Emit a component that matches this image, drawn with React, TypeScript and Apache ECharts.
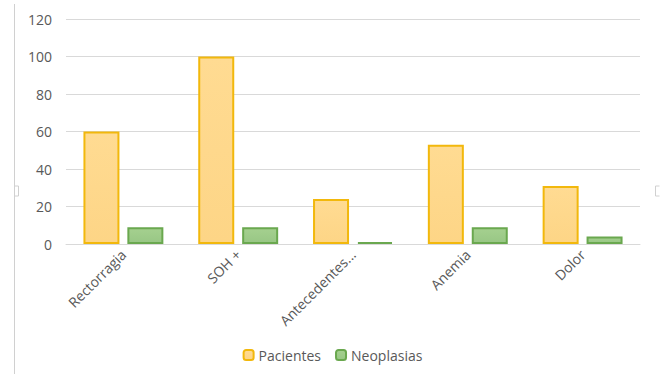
import React, { useEffect, useRef } from "react";
import * as echarts from "echarts";

const categories = ["Rectorragia", "SOH +", "Antecedentes...", "Anemia", "Dolor"];
const pacientes = [60, 100, 24, 53, 31];
const neoplasias = [9, 9, 1, 9, 4];
const yTicks = { min: 0, max: 120, interval: 20 };

export default function App() {
  const ref = useRef<HTMLDivElement>(null);
  useEffect(() => {
    if (!ref.current) return;
    const chart = echarts.init(ref.current, undefined, { renderer: "svg" });
    const font = "'Open Sans', 'Liberation Sans', sans-serif";
    chart.setOption({
      animation: false,
      backgroundColor: "#ffffff",
      textStyle: { fontFamily: font },
      grid: { left: 66, right: 25, top: 19, bottom: 130, containLabel: false },
      legend: {
        bottom: 7,
        left: "center",
        itemWidth: 10,
        itemHeight: 10,
        itemGap: 14,
        textStyle: { color: "#595959", fontSize: 14, fontFamily: font },
        data: ["Pacientes", "Neoplasias"],
      },
      xAxis: {
        type: "category",
        data: categories,
        axisLine: { lineStyle: { color: "#D9D9D9", width: 1 } },
        axisTick: { show: false },
        axisLabel: { rotate: 45, color: "#595959", fontSize: 14, margin: 8, interval: 0, fontFamily: font },
      },
      yAxis: {
        type: "value",
        min: yTicks.min,
        max: yTicks.max,
        interval: yTicks.interval,
        axisLine: { show: false },
        axisTick: { show: false },
        axisLabel: { color: "#595959", fontSize: 14, margin: 14, fontFamily: font },
        splitLine: { lineStyle: { color: "#D9D9D9", width: 1 } },
      },
      graphic: [
        { type: "line", shape: { x1: 14.5, y1: 4, x2: 14.5, y2: 374 }, style: { stroke: "#D0D0D0", lineWidth: 1 } },
        { type: "polyline", shape: { points: [[14.5, 186], [18.5, 186], [18.5, 196], [14.5, 196]] }, style: { stroke: "#D0D0D0", lineWidth: 1, fill: "none" } },
        { type: "polyline", shape: { points: [[659.5, 186], [655.5, 186], [655.5, 196], [659.5, 196]] }, style: { stroke: "#D0D0D0", lineWidth: 1, fill: "none" } },
      ],
      series: [
        {
          name: "Pacientes",
          type: "bar",
          data: pacientes,
          barWidth: 36,
          barGap: "22%",
          itemStyle: {
            color: new echarts.graphic.LinearGradient(0, 0, 0, 1, [
              { offset: 0, color: "#FFDB92" },
              { offset: 1, color: "#FDD586" },
            ]),
            borderColor: "#F2B80C",
            borderWidth: 2,
          },
        },
        {
          name: "Neoplasias",
          type: "bar",
          data: neoplasias,
          barWidth: 36,
          itemStyle: {
            color: new echarts.graphic.LinearGradient(0, 0, 0, 1, [
              { offset: 0, color: "#A5D08F" },
              { offset: 1, color: "#98C785" },
            ]),
            borderColor: "#6AA84F",
            borderWidth: 2,
          },
        },
      ],
    });
    return () => chart.dispose();
  }, []);
  return (
    <div
      ref={ref}
      style={{ position: "fixed", left: 0, top: 0, width: 665, height: 374 }}
    />
  );
}
